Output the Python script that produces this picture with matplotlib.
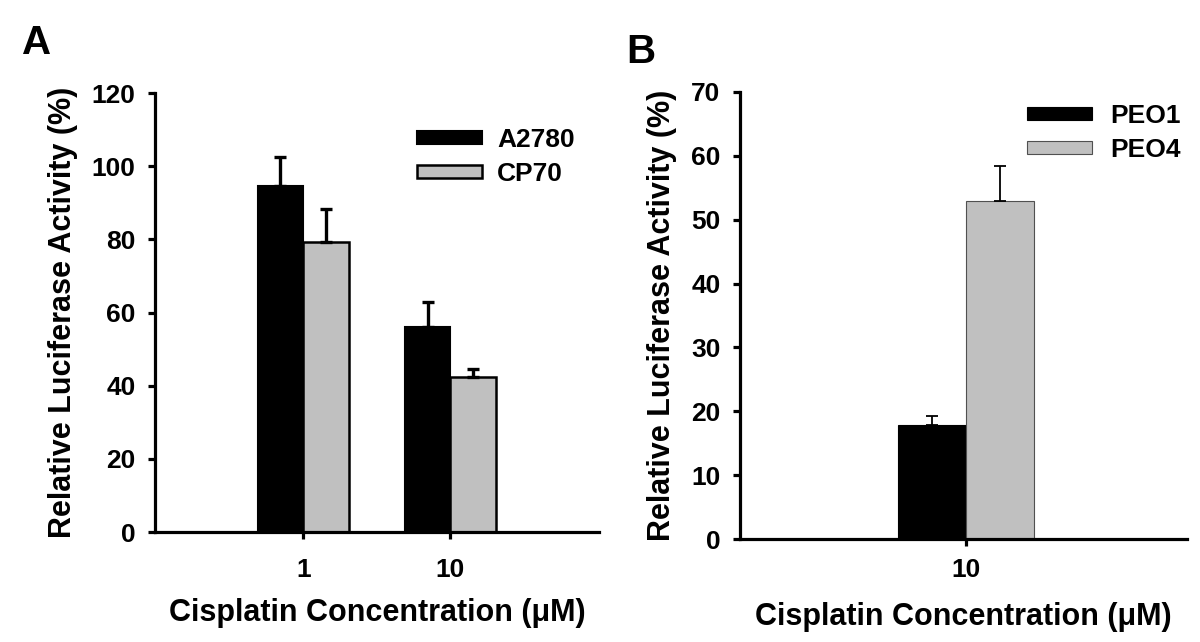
import numpy as np
import matplotlib
matplotlib.use("Agg")
import matplotlib.pyplot as plt
from matplotlib.patches import Patch

plt.rcParams['font.family'] = ['Liberation Sans', 'DejaVu Sans']
plt.rcParams['font.weight'] = 'bold'

# panel A data
conc_a = ['1', '10']
a2780 = [94.6, 56.0]
a2780_err = [7.8, 6.9]
cp70 = [79.3, 42.4]
cp70_err = [9.0, 2.2]

# panel B data
conc_b = ['10']
peo1 = [17.9]
peo1_err = [1.4]
peo4 = [53.0]
peo4_err = [5.4]

fig = plt.figure(figsize=(12, 6.42), dpi=100)

def style_axes(ax, lw, xpad, xlabelpad, ylabelpad):
    for s in ['top', 'right']:
        ax.spines[s].set_visible(False)
    for s in ['left', 'bottom']:
        ax.spines[s].set_linewidth(lw)
        ax.spines[s].set_color('black')
    ax.tick_params(axis='y', labelsize=19, width=lw, length=5, pad=9)
    ax.tick_params(axis='x', labelsize=19, width=lw, length=5, pad=xpad)
    ax.set_ylabel('Relative Luciferase Activity (%)', fontsize=22, fontweight='bold', labelpad=ylabelpad)
    ax.set_xlabel('Cisplatin Concentration (\u03bcM)', fontsize=22, fontweight='bold', labelpad=xlabelpad)

# ---- Panel A
axA = fig.add_axes([0.1292, 0.1713, 0.37, 0.6838])
x = np.arange(len(conc_a))
w = 0.31
axA.bar(x - w/2, a2780, w, color='black', edgecolor='black', linewidth=1.5, label='A2780')
axA.bar(x + w/2, cp70, w, color='#c0c0c0', edgecolor='black', linewidth=1.8, label='CP70')
axA.errorbar(x - w/2, a2780, yerr=[np.zeros(len(x)), a2780_err], fmt='none',
             ecolor='black', elinewidth=2.4, capsize=4, capthick=2.4)
axA.errorbar(x + w/2, cp70, yerr=[np.zeros(len(x)), cp70_err], fmt='none',
             ecolor='black', elinewidth=2.4, capsize=4, capthick=2.4)
axA.set_xlim(-1.007, 2.01)
axA.set_ylim(0, 120)
axA.set_yticks(range(0, 121, 20))
axA.set_xticks(x)
axA.set_xticklabels(conc_a)
style_axes(axA, 2.3, 14, 11, 10)
axA.legend(handles=[Patch(facecolor='black', edgecolor='black', linewidth=1.5),
                    Patch(facecolor='#c0c0c0', edgecolor='black', linewidth=1.8)],
           labels=['A2780', 'CP70'], frameon=False, fontsize=19,
           handlelength=2.46, handleheight=0.4, labelspacing=0.38, handletextpad=0.57,
           borderpad=0, borderaxespad=0,
           loc='upper left', bbox_to_anchor=(0.59, 0.92))

# ---- Panel B
axB = fig.add_axes([0.6167, 0.1604, 0.3725, 0.6963])
xb = np.arange(len(conc_b))
wb = 0.30
axB.bar(xb - wb/2, peo1, wb, color='black', edgecolor='black', linewidth=0.8, label='PEO1')
axB.bar(xb + wb/2, peo4, wb, color='#c0c0c0', edgecolor='#505050', linewidth=0.8, label='PEO4')
axB.errorbar(xb - wb/2, peo1, yerr=[np.zeros(len(xb)), peo1_err], fmt='none',
             ecolor='black', elinewidth=1.3, capsize=4, capthick=1.3)
axB.errorbar(xb + wb/2, peo4, yerr=[np.zeros(len(xb)), peo4_err], fmt='none',
             ecolor='black', elinewidth=1.3, capsize=4, capthick=1.3)
axB.set_xlim(-1.004, 0.982)
axB.set_ylim(0, 70)
axB.set_yticks(range(0, 71, 10))
axB.set_xticks(xb)
axB.set_xticklabels(conc_b)
style_axes(axB, 2.3, 9, 14, 10)
axB.legend(handles=[Patch(facecolor='black', edgecolor='black', linewidth=0.8),
                    Patch(facecolor='#c0c0c0', edgecolor='#505050', linewidth=0.8)],
           labels=['PEO1', 'PEO4'], frameon=False, fontsize=19,
           handlelength=2.46, handleheight=0.4, labelspacing=0.4, handletextpad=0.68,
           borderpad=0, borderaxespad=0,
           loc='upper left', bbox_to_anchor=(0.642, 0.974))

fig.text(0.018, 0.933, 'A', fontsize=29, fontweight='bold', va='center')
fig.text(0.522, 0.919, 'B', fontsize=29, fontweight='bold', va='center')

fig.savefig('out.png', dpi=100, facecolor='white')
